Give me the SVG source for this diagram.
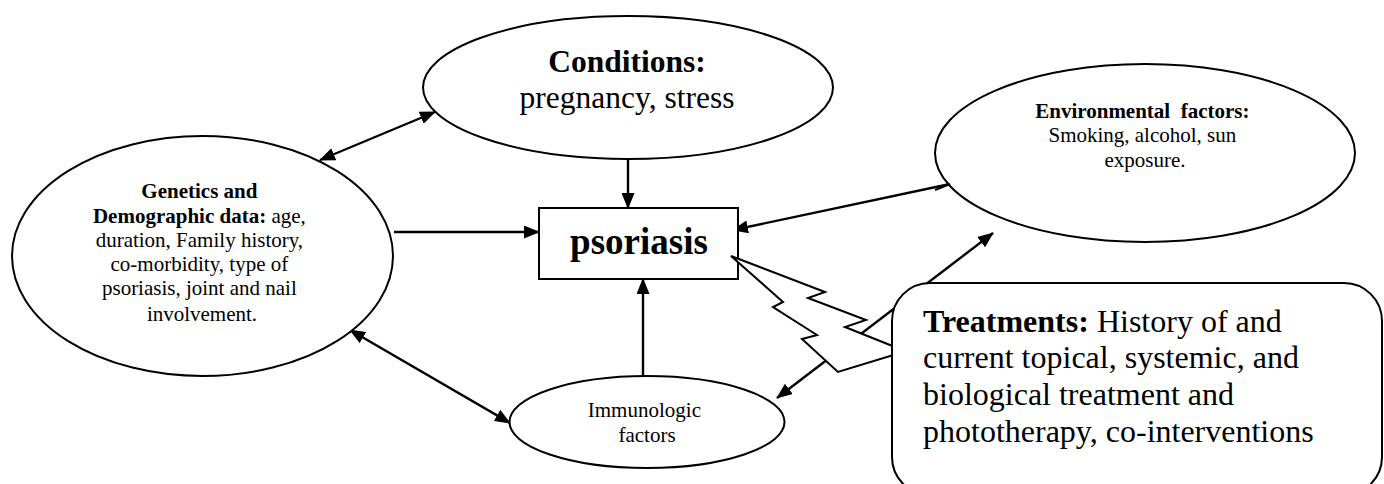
<svg xmlns="http://www.w3.org/2000/svg" width="1384" height="484" viewBox="0 0 1384 484">
<style>
.shape{fill:#fff;stroke:#000;stroke-width:2}
.conn{fill:none;stroke:#000;stroke-width:2.4}
text{font-family:"Liberation Serif","Times New Roman",serif;fill:#000}
.b{font-weight:bold}
.mid{text-anchor:middle}
</style>
<defs>
<marker id="ah" viewBox="0 0 16 13" markerWidth="16" markerHeight="13" refX="15" refY="6.5" orient="auto-start-reverse" markerUnits="userSpaceOnUse">
<path d="M0,0 L16,6.5 L0,13 z" fill="#000"/>
</marker>
</defs>
<rect width="1384" height="484" fill="#fff"/>
<g id="connectors">
<line class="conn" x1="320" y1="160" x2="435" y2="112" marker-start="url(#ah)" marker-end="url(#ah)"/>
<line class="conn" x1="628" y1="159" x2="628" y2="208" marker-end="url(#ah)"/>
<line class="conn" x1="394" y1="232" x2="539" y2="232" marker-end="url(#ah)"/>
<line class="conn" x1="950" y1="184" x2="733" y2="230" marker-end="url(#ah)"/>
<line class="conn" x1="643" y1="376" x2="643" y2="279" marker-end="url(#ah)"/>
<line class="conn" x1="350" y1="330" x2="510" y2="423" marker-start="url(#ah)" marker-end="url(#ah)"/>
<line class="conn" x1="777" y1="398" x2="993" y2="233" marker-start="url(#ah)" marker-end="url(#ah)"/>
</g>
<g id="conditions">
<ellipse class="shape" cx="628" cy="87.5" rx="205" ry="71.5"/>
<text class="mid b" x="627" y="72" font-size="31.5">Conditions:</text>
<text class="mid" x="627" y="108" font-size="31.5">pregnancy, stress</text>
</g>
<g id="genetics">
<ellipse class="shape" cx="202.5" cy="256" rx="190.5" ry="120"/>
<text class="mid" font-size="21">
<tspan class="b" x="202" y="198">Genetics and</tspan>
<tspan x="202" y="223"><tspan class="b">Demographic data:</tspan> age,</tspan>
<tspan x="202" y="247">duration, Family history,</tspan>
<tspan x="202" y="271">co-morbidity, type of</tspan>
<tspan x="202" y="295">psoriasis, joint and nail</tspan>
<tspan x="202" y="321">involvement.</tspan>
</text>
</g>
<g id="environmental">
<ellipse class="shape" cx="1145" cy="153" rx="210" ry="89"/>
<line class="conn" x1="935" y1="190" x2="950" y2="184"/>
<text class="mid" font-size="21">
<tspan class="b" x="1145" y="118" style="white-space:pre">Environmental  factors:</tspan>
<tspan x="1145" y="142">Smoking, alcohol, sun</tspan>
<tspan x="1145" y="167">exposure.</tspan>
</text>
</g>
<g id="psoriasis">
<rect class="shape" x="539" y="208" width="199" height="71"/>
<text class="mid b" x="639" y="254" font-size="37">psoriasis</text>
</g>
<g id="immunologic">
<ellipse class="shape" cx="647" cy="422" rx="137.5" ry="46"/>
<text class="mid" font-size="21" fill="#222">
<tspan x="647" y="417">Immunologic</tspan>
<tspan x="647" y="442">factors</tspan>
</text>
</g>
<g id="treatments">
<polygon class="shape" stroke-linejoin="miter" points="731,256 825,292 808,298 866,320 845,327 900,349 900,353 838,372 802,339 817,335 773,307 783,302"/>
<rect class="shape" x="892" y="283" width="490" height="212" rx="38" ry="38"/>
<text font-size="32">
<tspan x="923" y="332"><tspan class="b">Treatments:</tspan> History of and</tspan>
<tspan x="923" y="368">current topical, systemic, and</tspan>
<tspan x="923" y="405">biological treatment and</tspan>
<tspan x="923" y="442">phototherapy, co-interventions</tspan>
</text>
</g>
</svg>
